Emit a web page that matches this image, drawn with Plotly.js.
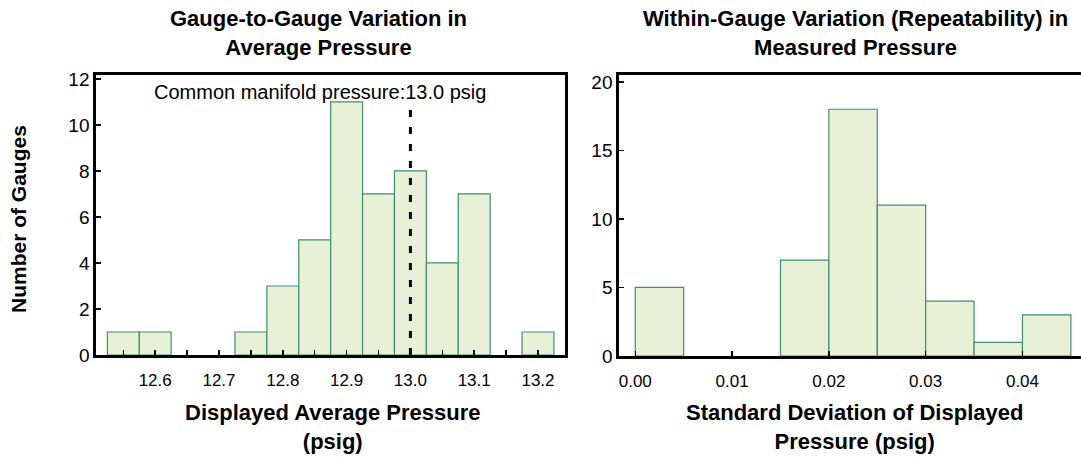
<!DOCTYPE html>
<html>
<head>
<meta charset="utf-8">
<script src="https://cdn.plot.ly/plotly-3.0.1.min.js"></script>
<style>
html,body{margin:0;padding:0;overflow:hidden;background:#fff;}
#chart{width:1090px;height:457px;}
</style>
</head>
<body>
<div id="chart"></div>
<script>
// Left histogram: bin centers (psig) and counts
const avgPressureBins = [12.55, 12.60, 12.65, 12.70, 12.75, 12.80, 12.85, 12.90, 12.95, 13.00, 13.05, 13.10, 13.15, 13.20];
const avgPressureCounts = [1, 1, 0, 0, 1, 3, 5, 11, 7, 8, 4, 7, 0, 1];
const avgBinWidth = 0.05;

// Right histogram: bin centers (psig) and counts
const sdBins = [0.0025, 0.0075, 0.0125, 0.0175, 0.0225, 0.0275, 0.0325, 0.0375, 0.0425];
const sdCounts = [5, 0, 0, 7, 18, 11, 4, 1, 3];
const sdBinWidth = 0.005;

const manifoldPressure = 13.0;
const manifoldLineTop = 10.8;

const leftTicks = [12.6, 12.7, 12.8, 12.9, 13.0, 13.1, 13.2];
const rightTicks = [0.00, 0.01, 0.02, 0.03, 0.04];
const leftYTicks = [0, 2, 4, 6, 8, 10, 12];
const rightYTicks = [0, 5, 10, 15, 20];

const W = 1090, H = 457;
const fillC = '#e8f1d8', edgeC = '#3f8f6c';
const font = 'Liberation Sans, Arial, sans-serif';

// empty bins draw nothing
const nz = a => a.map(v => v > 0 ? v : null);

const traces = [
  {type:'bar', x: avgPressureBins, y: nz(avgPressureCounts), width: avgBinWidth,
   xaxis:'x', yaxis:'y', marker:{color:fillC, line:{color:edgeC, width:1.2}}, hoverinfo:'x+y'},
  {type:'bar', x: sdBins, y: nz(sdCounts), width: sdBinWidth,
   xaxis:'x2', yaxis:'y2', marker:{color:fillC, line:{color:edgeC, width:1.2}}, hoverinfo:'x+y'}
];

const axBase = {showline:true, linecolor:'#000', linewidth:2.7, mirror:true, ticks:'inside',
  ticklen:5, tickwidth:1.5, tickcolor:'#000', showgrid:false, zeroline:false, layer:'above traces',
  tickfont:{family:font, size:17, color:'#000'}};
const yFont = {family:font, size:19, color:'#000'};

const layout = {
  width: W, height: H,
  margin:{l:0, r:0, t:0, b:0},
  paper_bgcolor:'#fff', plot_bgcolor:'#fff',
  showlegend:false, bargap:0,
  font:{family:font, color:'#000'},
  xaxis: Object.assign({}, axBase, {domain:[96/W, 565/W], range:[12.5072, 13.2423],
    tickvals: leftTicks, ticktext: leftTicks.map(v=>v.toFixed(1)), ticklabelstandoff: 8,
    minor:{dtick:0.05, tick0:12.5, ticks:'inside', ticklen:5, tickwidth:1.5, tickcolor:'#000'},
    anchor:'y'}),
  yaxis: Object.assign({}, axBase, {domain:[(H-355)/H, (H-75)/H], range:[0, 12.17],
    tickvals: leftYTicks, tickfont: yFont, anchor:'x'}),
  xaxis2: Object.assign({}, axBase, {domain:[619/W, 1088/W], range:[-0.00168, 0.04677],
    tickvals: rightTicks, ticktext: rightTicks.map(v=>v.toFixed(2)), ticklabelstandoff: 8, anchor:'y2'}),
  yaxis2: Object.assign({}, axBase, {domain:[(H-356)/H, (H-75)/H], range:[0, 20.5],
    tickvals: rightYTicks, tickfont: yFont, anchor:'x2'}),
  shapes:[
    {type:'line', xref:'x', yref:'y', x0:manifoldPressure, x1:manifoldPressure, y0:0, y1:manifoldLineTop,
     line:{color:'#000', width:3, dash:'7px,10px'}}
  ],
  annotations:[
    {text:'Gauge-to-Gauge Variation in<br>Average Pressure', xref:'paper', yref:'paper',
     x:318/W, y:1-33/H, xanchor:'center', yanchor:'middle', showarrow:false,
     font:{family:font, size:22, color:'#000', weight:'bold'}},
    {text:'Within-Gauge Variation (Repeatability) in<br>Measured Pressure', xref:'paper', yref:'paper',
     x:855/W, y:1-33/H, xanchor:'center', yanchor:'middle', showarrow:false,
     font:{family:font, size:22, color:'#000', weight:'bold'}},
    {text:'Displayed Average Pressure<br>(psig)', xref:'paper', yref:'paper',
     x:333/W, y:1-427/H, xanchor:'center', yanchor:'middle', showarrow:false,
     font:{family:font, size:22, color:'#000', weight:'bold'}},
    {text:'Standard Deviation of Displayed<br>Pressure (psig)', xref:'paper', yref:'paper',
     x:854/W, y:1-427/H, xanchor:'center', yanchor:'middle', showarrow:false,
     font:{family:font, size:22, color:'#000', weight:'bold'}},
    {text:'Number of Gauges', xref:'paper', yref:'paper', textangle:-90,
     x:18/W, y:1-219/H, xanchor:'center', yanchor:'middle', showarrow:false,
     font:{family:font, size:21, color:'#000', weight:'bold'}},
    {text:'Common manifold pressure:' + manifoldPressure.toFixed(1) + ' psig', xref:'paper', yref:'paper',
     x:320/W, y:1-92/H, xanchor:'center', yanchor:'middle', showarrow:false,
     font:{family:font, size:20, color:'#000'}}
  ]
};

Plotly.newPlot('chart', traces, layout, {staticPlot:true, displayModeBar:false});
</script>
</body>
</html>
